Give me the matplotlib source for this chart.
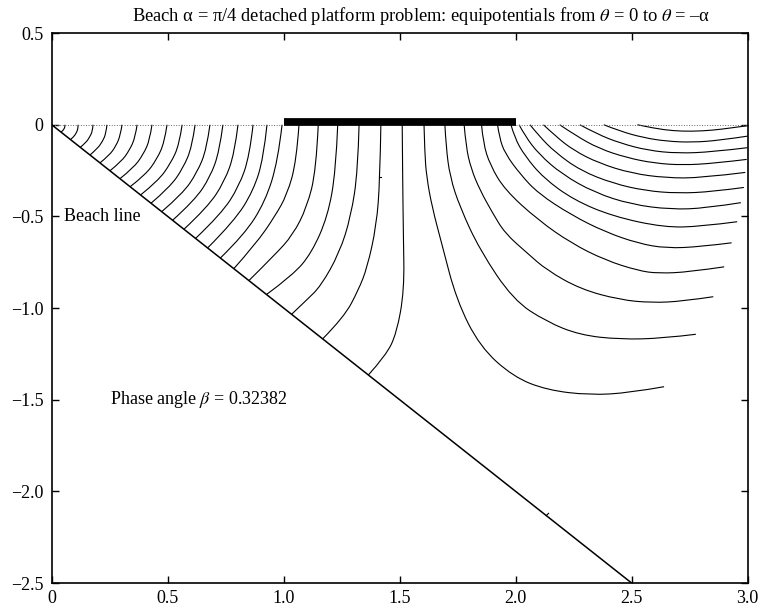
import matplotlib.pyplot as plt
from matplotlib.path import Path
from matplotlib.patches import PathPatch

plt.rcParams["font.family"] = ["Liberation Serif", "DejaVu Serif"]
plt.rcParams["mathtext.fontset"] = "stix"

# beach line end (x, y) and platform extent
beach_x = [0.0, 2.5]
beach_y = [0.0, -2.5]
platform_x = [1.0, 2.0]
platform_y = [0.015, 0.015]

# equipotentials that run into the beach line: (x, y) points
b01 = [(0.057, 0), (0.057, -0.012), (0.053, -0.022), (0.048, -0.032), (0.040, -0.040)]
b02 = [(0.114, 0), (0.113, -0.023), (0.106, -0.044), (0.096, -0.064), (0.081, -0.081)]
b03 = [(0.178, 0), (0.176, -0.035), (0.163, -0.068), (0.147, -0.098), (0.123, -0.123)]
b04 = [(0.238, 0), (0.234, -0.047), (0.219, -0.091), (0.196, -0.131), (0.165, -0.165)]
b05 = [(0.303, 0), (0.296, -0.058), (0.277, -0.115), (0.249, -0.166), (0.208, -0.208)]
b06 = [(0.368, 0), (0.360, -0.070), (0.335, -0.139), (0.300, -0.201), (0.251, -0.251)]
b07 = [(0.432, 0), (0.423, -0.083), (0.394, -0.163), (0.352, -0.236), (0.294, -0.294)]
b08 = [(0.497, 0), (0.486, -0.096), (0.453, -0.188), (0.405, -0.272), (0.338, -0.338)]
b09 = [(0.562, 0), (0.550, -0.109), (0.512, -0.212), (0.458, -0.307), (0.383, -0.383)]
b10 = [(0.618, 0), (0.605, -0.120), (0.567, -0.235), (0.509, -0.341), (0.428, -0.428)]
b11 = [(0.682, 0), (0.668, -0.133), (0.627, -0.260), (0.564, -0.377), (0.474, -0.474)]
b12 = [(0.738, 0), (0.723, -0.144), (0.684, -0.283), (0.616, -0.413), (0.521, -0.521)]
b13 = [(0.803, 0), (0.788, -0.157), (0.745, -0.309), (0.672, -0.450), (0.570, -0.570)]
b14 = [(0.868, 0), (0.853, -0.170), (0.808, -0.335), (0.730, -0.488), (0.620, -0.620)]
b15 = [(0.928, 0), (0.913, -0.183), (0.869, -0.360), (0.787, -0.526), (0.672, -0.672)]
b16 = [(0.993, 0), (0.975, -0.200), (0.920, -0.420), (0.830, -0.600), (0.727, -0.727)]
b17 = [(1.066, 0), (1.055, -0.200), (1.015, -0.380), (0.962, -0.500), (0.880, -0.650),
       (0.785, -0.785)]
b18 = [(1.149, 0), (1.140, -0.250), (1.100, -0.450), (1.040, -0.600), (0.962, -0.710),
       (0.850, -0.850)]
b19 = [(1.233, 0), (1.225, -0.250), (1.190, -0.500), (1.120, -0.700), (1.040, -0.820),
       (0.926, -0.926)]
b20 = [(1.325, 0), (1.320, -0.250), (1.290, -0.500), (1.240, -0.700), (1.160, -0.880),
       (1.099, -0.956), (1.034, -1.034)]
b21 = [(1.419, 0), (1.415, -0.300), (1.400, -0.550), (1.360, -0.780), (1.322, -0.902),
       (1.260, -1.050), (1.168, -1.168)]
b22 = [(1.511, 0), (1.513, -0.300), (1.516, -0.600), (1.520, -0.902), (1.487, -1.138),
       (1.440, -1.260), (1.365, -1.365)]

# equipotentials that turn seaward
s01 = [(1.605, 0), (1.608, -0.150), (1.616, -0.284), (1.640, -0.450), (1.681, -0.647),
       (1.745, -0.956), (1.846, -1.211), (1.990, -1.375), (2.134, -1.447), (2.320, -1.475),
       (2.493, -1.462), (2.640, -1.429)]
s02 = [(1.695, 0), (1.700, -0.120), (1.717, -0.284), (1.760, -0.450), (1.846, -0.684),
       (1.990, -0.956), (2.134, -1.075), (2.277, -1.147), (2.450, -1.171), (2.636, -1.165),
       (2.777, -1.143)]
s03 = [(1.778, 0), (1.786, -0.120), (1.808, -0.240), (1.846, -0.356), (1.900, -0.480),
       (1.954, -0.592), (2.050, -0.700), (2.134, -0.793), (2.280, -0.897), (2.450, -0.955),
       (2.586, -0.971), (2.720, -0.963), (2.852, -0.938)]
s04 = [(1.853, 0), (1.860, -0.100), (1.890, -0.220), (1.954, -0.356), (2.097, -0.520),
       (2.241, -0.647), (2.385, -0.738), (2.528, -0.796), (2.615, -0.811), (2.750, -0.803),
       (2.899, -0.775)]
s05 = [(1.922, 0), (1.930, -0.070), (1.954, -0.156), (2.020, -0.270), (2.097, -0.374),
       (2.241, -0.493), (2.385, -0.584), (2.528, -0.647), (2.650, -0.674), (2.800, -0.665),
       (2.931, -0.644)]
s06 = [(1.980, 0), (1.995, -0.070), (2.040, -0.170), (2.120, -0.290), (2.250, -0.410),
       (2.420, -0.500), (2.640, -0.560), (2.800, -0.555), (2.955, -0.529)]
s07 = [(2.015, 0), (2.040, -0.060), (2.100, -0.160), (2.200, -0.270), (2.340, -0.370),
       (2.500, -0.435), (2.670, -0.462), (2.820, -0.455), (2.971, -0.425)]
s08 = [(2.062, 0), (2.100, -0.060), (2.170, -0.150), (2.280, -0.250), (2.420, -0.320),
       (2.560, -0.360), (2.700, -0.374), (2.850, -0.365), (2.984, -0.342)]
s09 = [(2.120, 0), (2.170, -0.060), (2.250, -0.140), (2.360, -0.210), (2.500, -0.265),
       (2.650, -0.290), (2.800, -0.290), (2.990, -0.260)]
s10 = [(2.190, 0), (2.260, -0.060), (2.360, -0.130), (2.480, -0.180), (2.600, -0.210),
       (2.720, -0.220), (2.860, -0.210), (2.996, -0.189)]
s11 = [(2.277, 0), (2.350, -0.050), (2.450, -0.100), (2.570, -0.140), (2.700, -0.156),
       (2.850, -0.148), (3.000, -0.125)]
s12 = [(2.380, 0), (2.450, -0.035), (2.550, -0.070), (2.650, -0.090), (2.760, -0.096),
       (2.880, -0.085), (3.000, -0.062)]
s13 = [(2.525, 0), (2.600, -0.020), (2.680, -0.033), (2.760, -0.036), (2.850, -0.030),
       (2.930, -0.017), (3.000, -0.005)]

# two tiny stray stubs visible in the original
stub1 = [(1.415, -0.283), (1.421, -0.283)]
stub2 = [(2.132, -2.132), (2.142, -2.120)]

beach_curves = [b01, b02, b03, b04, b05, b06, b07, b08, b09, b10, b11,
                b12, b13, b14, b15, b16, b17, b18, b19, b20, b21, b22]
sea_curves = [s01, s02, s03, s04, s05, s06, s07, s08, s09, s10, s11, s12, s13]


def smooth_path(pts):
    # quadratic pieces through segment midpoints, read points act as control points
    verts = [pts[0]]
    codes = [Path.MOVETO]
    for i in range(1, len(pts) - 1):
        nxt = pts[i + 1] if i == len(pts) - 2 else (
            ((pts[i][0] + pts[i + 1][0]) / 2, (pts[i][1] + pts[i + 1][1]) / 2))
        verts += [pts[i], nxt]
        codes += [Path.CURVE3, Path.CURVE3]
    return Path(verts, codes)


fig = plt.figure(figsize=(7.63, 6.11), dpi=100)
ax = fig.add_axes([0.0678, 0.0458, 0.912, 0.900])

# free surface (dotted) and platform
ax.plot([0, 1.0], [0, 0], color="0.4", linestyle=":", linewidth=0.7)
ax.plot([2.0, 3.0], [0, 0], color="0.4", linestyle=":", linewidth=0.7)
ax.plot(platform_x, platform_y, color="black", linewidth=5.6, solid_capstyle="butt")

ax.plot(beach_x, beach_y, color="black", linewidth=1.1)

for c in beach_curves + sea_curves:
    ax.add_patch(PathPatch(smooth_path(c), facecolor="none", edgecolor="black", linewidth=0.8))

for st in [stub1, stub2]:
    ax.plot([p[0] for p in st], [p[1] for p in st], color="black", linewidth=0.8)

ax.text(0.054, -0.5, "Beach line", fontsize=13, va="center", ha="left")
ax.text(0.25, -1.5, r"Phase angle $\beta$ = 0.32382", fontsize=13, va="center", ha="left")

ax.set_xlim(0, 3)
ax.set_ylim(-2.5, 0.5)
ax.set_xticks([0, 0.5, 1.0, 1.5, 2.0, 2.5, 3.0])
ax.set_xticklabels(["0", "0.5", "1.0", "1.5", "2.0", "2.5", "3.0"])
ax.set_yticks([0.5, 0, -0.5, -1.0, -1.5, -2.0, -2.5])
ax.set_yticklabels(["0.5", "0", "\u22120.5", "\u22121.0", "\u22121.5", "\u22122.0", "\u22122.5"])
ax.tick_params(direction="in", top=True, right=True, labelsize=13, length=5, width=1)
ax.tick_params(axis="y", pad=6)
ax.tick_params(axis="x", pad=5)
for s in ax.spines.values():
    s.set_linewidth(1.2)

ax.text(0.531, 1.012, r"Beach α = π/4 detached platform problem: equipotentials from $\theta$ = 0 to $\theta$ = –α",
        transform=ax.transAxes, fontsize=13.3, ha="center", va="bottom")

fig.savefig("out.png", dpi=100)
